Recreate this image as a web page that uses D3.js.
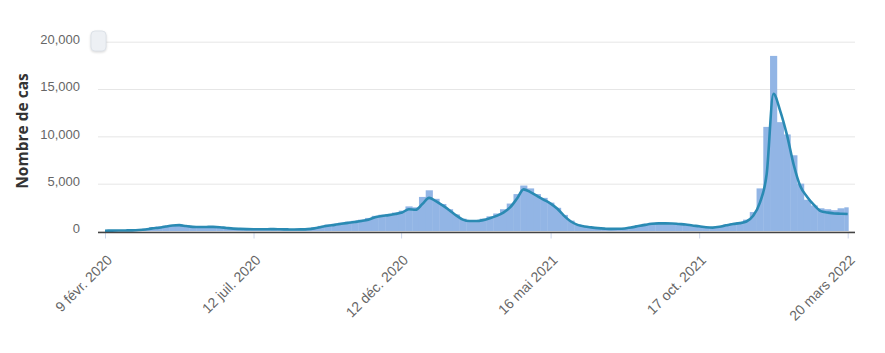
<!DOCTYPE html>
<html>
<head>
<meta charset="utf-8">
<script src="https://cdn.jsdelivr.net/npm/d3@7"></script>
<style>
  body { margin: 0; background: #fff; }
  svg { display: block; font-family: "Open Sans", sans-serif; }
</style>
</head>
<body>
<div id="chart"></div>
<script>
"use strict";

// data: one value per week, starting 9 févr. 2020 (Sunday)
const startDate = Date.UTC(2020, 1, 9);

// daily cases (bars), weekly reading
const weeklyBars = [
    50, 60, 60, 70, 90, 140, 250, 400, 480, 560,
    640, 680, 600, 500, 470, 480, 500, 460, 380, 300,
    260, 240, 230, 220, 220, 230, 210, 200, 200, 220,
    280, 380, 540, 680, 760, 880, 980, 1080, 1200, 1380,
    1600, 1720, 1800, 1950, 2150, 2600, 2500, 3600, 4300, 3400,
    2850, 2300, 1750, 1300, 1150, 1150, 1300, 1550, 1850, 2300,
    2900, 3900, 4800, 4500, 3900, 3500, 3000, 2450, 1700, 1100,
    720, 540, 420, 330, 280, 250, 270, 330, 450, 620,
    760, 860, 900, 880, 840, 780, 720, 620, 540, 440,
    400, 500, 680, 820, 950, 1200, 2000, 4500, 11000, 18500,
    11500, 10200, 8000, 5000, 3300, 2700, 2400, 2300, 2200, 2400, 2500
];

// moving average (line)
const weeklyAvg = [
    30, 40, 50, 60, 70, 100, 160, 280, 350, 470,
    580, 620, 520, 440, 420, 430, 440, 400, 320, 250,
    220, 200, 190, 190, 190, 200, 180, 170, 160, 170,
    200, 280, 420, 560, 650, 760, 860, 960, 1060, 1200,
    1450, 1580, 1680, 1800, 1950, 2300, 2250, 2850, 3500, 3150,
    2700, 2200, 1650, 1200, 1050, 1050, 1150, 1350, 1600, 1950,
    2500, 3400, 4400, 4100, 3700, 3300, 2900, 2350, 1600, 1000,
    650, 480, 380, 300, 250, 220, 230, 270, 380, 520,
    650, 760, 810, 810, 800, 740, 680, 580, 500, 400,
    360, 440, 600, 740, 830, 1000, 1600, 3000, 6000, 14500,
    12700, 10150, 7000, 4700, 3600, 2750, 2100, 1950, 1850, 1830, 1800
];

// x tick labels
const tickDates = [
    Date.UTC(2020, 1, 9), Date.UTC(2020, 6, 12), Date.UTC(2020, 11, 12),
    Date.UTC(2021, 4, 16), Date.UTC(2021, 9, 17), Date.UTC(2022, 2, 20)
];
const tickLabels = ["9 févr. 2020", "12 juil. 2020", "12 déc. 2020", "16 mai 2021", "17 oct. 2021", "20 mars 2022"];

const yTicks = [0, 5000, 10000, 15000, 20000];
const yTitle = "Nombre de cas";



// setting
const width = 885, height = 353;
const plot = { left: 98, right: 855, top: 41.7, bottom: 231 };
const DAY = 86400000;

let weeks = weeklyAvg.map((v, i) => ({
    date: new Date(startDate + i * 7 * DAY),
    avg: v,
    bar: weeklyBars[i]
}));



// scales
let scaleX = d3.scaleUtc()
.domain([new Date(tickDates[0]), new Date(tickDates[tickDates.length - 1])])
.range([105, 847.7]);

let scaleY = d3.scaleLinear()
.domain([0, 20000])
.range([plot.bottom, plot.top]);



let svg = d3.select("#chart").append("svg")
.attr("width", width)
.attr("height", height);

svg.append("defs").append("clipPath")
.attr("id", "plotClip")
.append("rect")
.attr("x", scaleX.range()[0])
.attr("y", 0)
.attr("width", scaleX.range()[1] - scaleX.range()[0] + 1)
.attr("height", height);



// y axis + grid
let yAxis = svg.append("g")
.attr("class", "y_axis")
.attr("transform", `translate(${plot.left}, 0)`)
.call(d3.axisLeft(scaleY).tickValues(yTicks).tickFormat(d3.format(",")).tickSize(-(plot.right - plot.left)).tickPadding(18));

yAxis.select(".domain").remove();
yAxis.selectAll(".tick line").attr("stroke", "#e6e6e6");
yAxis.selectAll(".tick text")
.attr("fill", "#666")
.attr("font-size", 13)
.attr("dy", "0.15em");

svg.append("text")
.attr("transform", `translate(28, 131) rotate(-90)`)
.attr("text-anchor", "middle")
.attr("font-size", 15.5)
.attr("font-weight", "bold")
.attr("fill", "#333")
.text(yTitle);



// bars
const barW = scaleX(new Date(startDate + 7 * DAY)) - scaleX(new Date(startDate));
svg.append("g")
.attr("class", "bars")
.attr("clip-path", "url(#plotClip)")
.selectAll("rect")
.data(weeks)
.enter()
.append("rect")
.attr("x", d => scaleX(d.date) - barW / 2)
.attr("width", barW + 0.4)
.attr("y", d => scaleY(d.bar))
.attr("height", d => scaleY(0) - scaleY(d.bar))
.attr("fill", "#92b5e5");



// line
svg.append("path")
.datum(weeks)
.attr("fill", "none")
.attr("stroke", "#2a8ab3")
.attr("stroke-width", 2.6)
.attr("stroke-linejoin", "round")
.attr("d", d3.line()
    .x(d => scaleX(d.date))
    .y(d => scaleY(d.avg))
    .curve(d3.curveMonotoneX));



// x axis
let xAxis = svg.append("g")
.attr("class", "x_axis")
.attr("transform", `translate(0, ${plot.bottom + 1.5})`)
.call(d3.axisBottom(scaleX).tickValues(tickDates.map(t => new Date(t))).tickSize(6).tickFormat((_, i) => tickLabels[i]));

xAxis.select(".domain").remove();
xAxis.selectAll(".tick line").attr("stroke", "#ccd6eb");
xAxis.selectAll(".tick text")
.attr("fill", "#666")
.attr("font-size", 14)
.attr("text-anchor", "end")
.attr("transform", "translate(4, 25) rotate(-45)")
.attr("x", 0)
.attr("y", 0)
.attr("dy", "0.35em");

svg.append("line")
.attr("x1", plot.left)
.attr("x2", plot.right)
.attr("y1", plot.bottom + 1.5)
.attr("y2", plot.bottom + 1.5)
.attr("stroke", "#444")
.attr("stroke-width", 1.6);



// little reset button top left
svg.append("rect")
.attr("x", 91)
.attr("y", 31)
.attr("width", 15)
.attr("height", 20)
.attr("rx", 4)
.attr("fill", "#edf0f4")
.attr("stroke", "#dde2e8")
.attr("stroke-width", 1)
.style("filter", "drop-shadow(0 1px 1px rgba(0,0,0,0.15))");
</script>
</body>
</html>
